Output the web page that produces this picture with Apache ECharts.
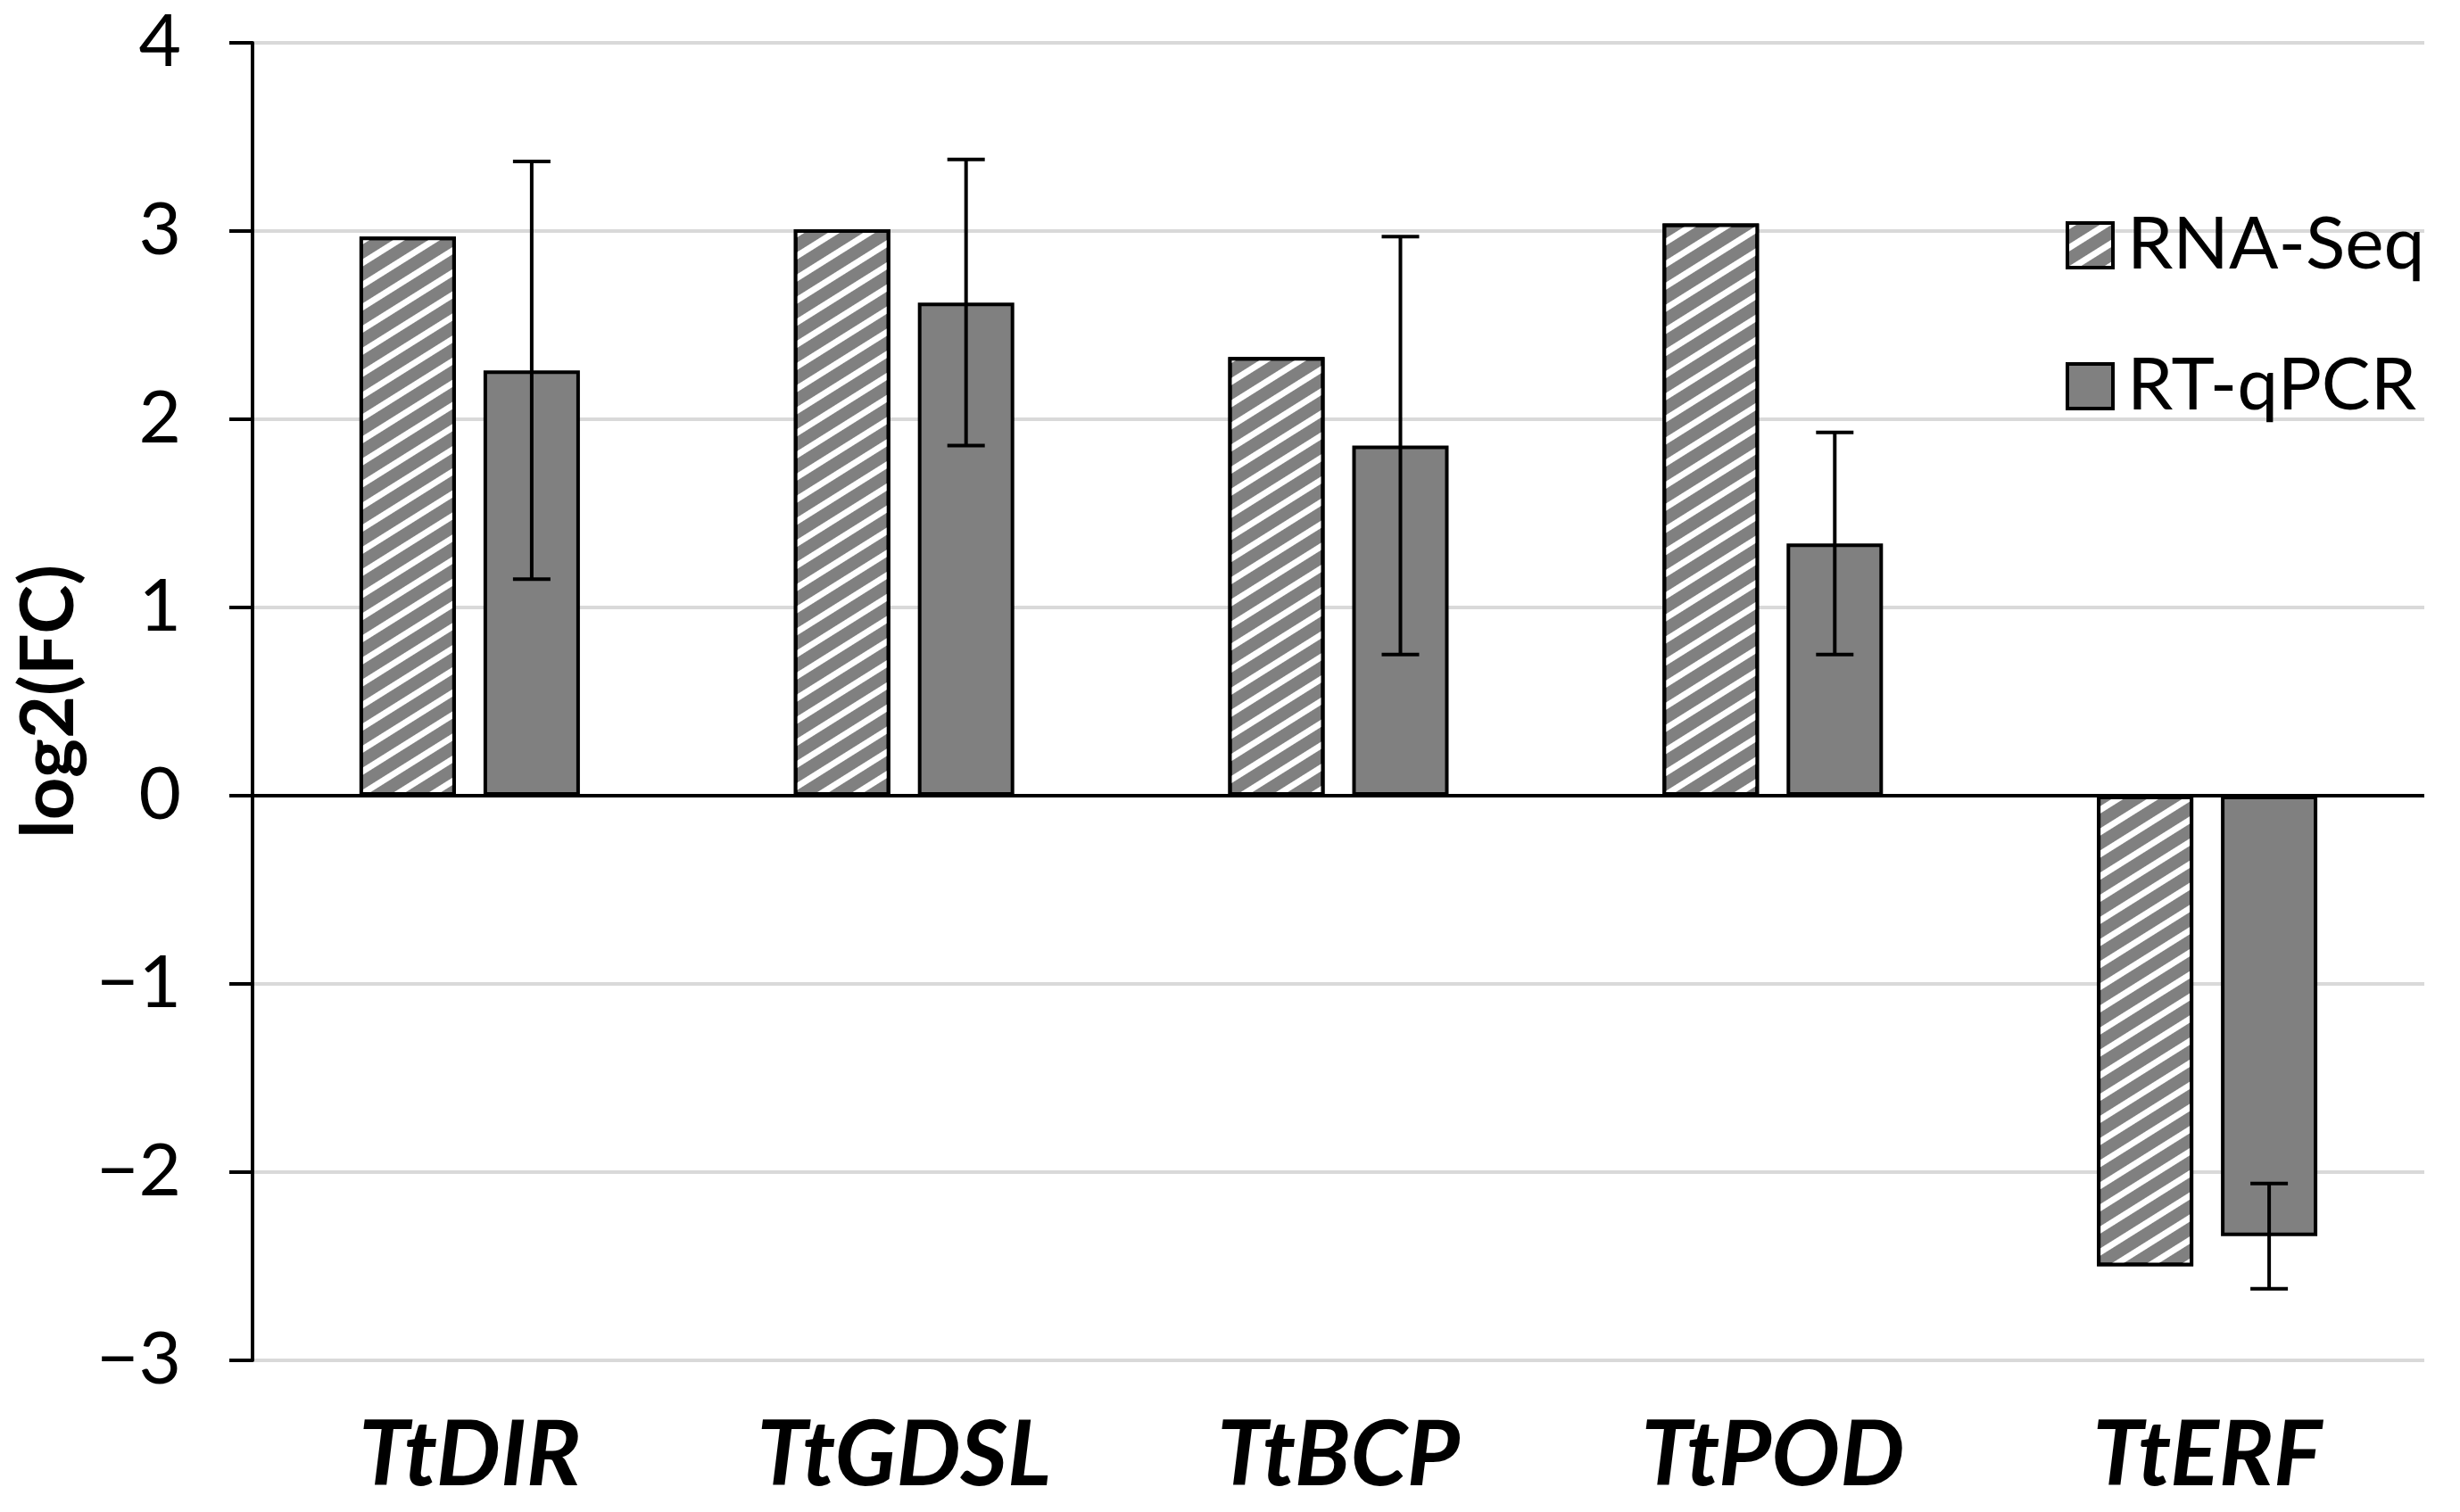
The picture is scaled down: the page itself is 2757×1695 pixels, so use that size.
<!DOCTYPE html>
<html>
<head>
<meta charset="utf-8">
<script src="https://cdn.jsdelivr.net/npm/echarts@6/dist/echarts.min.js"></script>
<style>
  html, body { margin: 0; padding: 0; background: #fff; }
  #chart { width: 2757px; height: 1695px; }
</style>
</head>
<body>
<div id="chart"></div>
<script>
// ---- data ----
const categories = ['TtDIR', 'TtGDSL', 'TtBCP', 'TtPOD', 'TtERF'];
const rnaSeq = [2.97, 3.01, 2.33, 3.04, -2.50];
const rtqPCR = [2.26, 2.62, 1.86, 1.34, -2.34];
const rtqPCRErr = [1.11, 0.76, 1.11, 0.59, 0.28];
const yTicks = [-3, -2, -1, 0, 1, 2, 3, 4];

// ---- styling constants ----
const FONT = 'Lato';
const BAR_W = 108;
const GAP_PX = 31;
const ERR_OFFSET = (BAR_W + GAP_PX) / 2;

const chart = echarts.init(document.getElementById('chart'), null, { renderer: 'canvas' });

const hatch = {
  symbol: 'rect',
  symbolSize: 1,
  dashArrayX: [1, 0],
  dashArrayY: [7, 14],
  rotation: -0.56,
  color: '#ffffff'
};

const errData = categories.map((c, i) => [i, rtqPCR[i], rtqPCRErr[i]]);

const option = {
  backgroundColor: '#ffffff',
  animation: false,
  grid: { left: 283, right: 40, top: 48, bottom: 170, containLabel: false },
  legend: {
    orient: 'vertical',
    left: 2310,
    top: 229,
    itemWidth: 51,
    itemHeight: 50,
    itemGap: 76,
    icon: 'rect',
    selectedMode: false,
    itemStyle: { borderColor: '#000', borderWidth: 4 },
    textStyle: { fontFamily: FONT, fontSize: 82, color: '#000', padding: [0, 0, 0, 11] },
    data: ['RNA-Seq', 'RT-qPCR']
  },
  xAxis: {
    type: 'category',
    data: categories,
    axisLine: { show: false, onZero: false },
    axisTick: { show: false },
    axisLabel: {
      fontFamily: FONT, fontSize: 102, fontWeight: 'bold', fontStyle: 'italic',
      color: '#000', margin: 56
    },
    splitLine: { show: false }
  },
  yAxis: {
    type: 'value',
    min: -3, max: 4, interval: 1,
    name: 'log2(FC)',
    nameLocation: 'middle',
    nameGap: 161,
    nameTextStyle: { fontFamily: FONT, fontSize: 83, fontWeight: 'bold', color: '#000' },
    axisLine: { show: true, lineStyle: { color: '#000', width: 4 } },
    axisTick: { show: true, length: 26, inside: false, lineStyle: { color: '#000', width: 4 } },
    axisLabel: {
      fontFamily: FONT, fontSize: 82, color: '#000', margin: 80,
      formatter: v => (yTicks.indexOf(v) >= 0 ? String(v).replace('-', '\u2212') : '')
    },
    splitLine: { show: true, lineStyle: { color: '#d9d9d9', width: 4 } }
  },
  series: [
    {
      name: 'RNA-Seq',
      type: 'bar',
      data: rnaSeq,
      barWidth: BAR_W,
      barGap: (GAP_PX / BAR_W * 100).toFixed(1) + '%',
      itemStyle: { color: '#808080', borderColor: '#000', borderWidth: 4, decal: hatch },
      markLine: {
        silent: true,
        symbol: 'none',
        label: { show: false },
        lineStyle: { color: '#000', width: 4, type: 'solid' },
        data: [{ yAxis: 0 }]
      },
      z: 2
    },
    {
      name: 'RT-qPCR',
      type: 'bar',
      data: rtqPCR,
      barWidth: BAR_W,
      itemStyle: { color: '#808080', borderColor: '#000', borderWidth: 4 },
      z: 2
    },
    {
      name: 'err',
      type: 'custom',
      data: errData,
      z: 5,
      renderItem: function (params, api) {
        const i = api.value(0);
        const mid = api.value(1);
        const e = api.value(2);
        const top = api.coord([i, mid + e]);
        const bot = api.coord([i, mid - e]);
        const x = top[0] + ERR_OFFSET;
        const cap = 21;
        const style = { stroke: '#000', lineWidth: 4 };
        return {
          type: 'group',
          children: [
            { type: 'line', shape: { x1: x, y1: top[1], x2: x, y2: bot[1] }, style },
            { type: 'line', shape: { x1: x - cap, y1: top[1], x2: x + cap, y2: top[1] }, style },
            { type: 'line', shape: { x1: x - cap, y1: bot[1], x2: x + cap, y2: bot[1] }, style }
          ]
        };
      }
    }
  ]
};

chart.setOption(option);
</script>
</body>
</html>
